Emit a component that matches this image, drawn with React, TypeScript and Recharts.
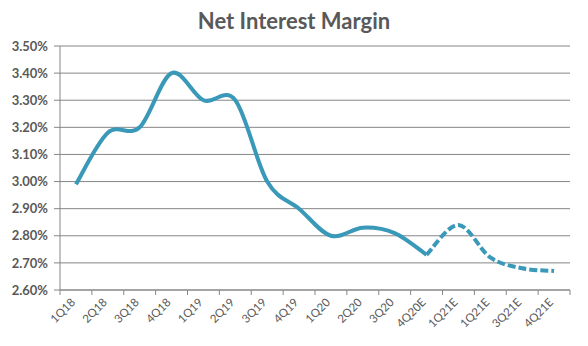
import { CartesianGrid, Line, LineChart, XAxis, YAxis } from "recharts";

const quarters = [
  "1Q18", "2Q18", "3Q18", "4Q18", "1Q19", "2Q19", "3Q19", "4Q19",
  "1Q20", "2Q20", "3Q20", "4Q20E", "1Q21E", "1Q21E", "3Q21E", "4Q21E",
];

// reported margin, %
const actualNim = [
  2.99, 3.18, 3.2, 3.4, 3.3, 3.3, 3.0, 2.9, 2.8, 2.83, 2.81, 2.73,
  null, null, null, null,
];

// estimates, start at 4Q20E so the dashed part joins the solid one
const estimateNim = [
  null, null, null, null, null, null, null, null, null, null, null,
  2.73, 2.84, 2.72, 2.68, 2.67,
];

const yTicks = [2.6, 2.7, 2.8, 2.9, 3.0, 3.1, 3.2, 3.3, 3.4, 3.5];

const data = quarters.map((q, i) => ({
  q,
  actual: actualNim[i],
  estimate: estimateNim[i],
}));

const LINE_COLOR = "#3a98b8";
const AXIS_COLOR = "#868686";
const TEXT_COLOR = "#595959";
const FONT = "Lato, 'Open Sans', sans-serif";

const WIDTH = 588;
const HEIGHT = 346;
const PLOT_LEFT = 60;
const PLOT_RIGHT = 570;
const BAND = (PLOT_RIGHT - PLOT_LEFT) / quarters.length;

// Excel-like smoothed line (Catmull-Rom through the points)
function smoothCurve(context: any) {
  let pts: number[][] = [];
  return {
    areaStart() {},
    areaEnd() {},
    lineStart() {
      pts = [];
    },
    point(x: number, y: number) {
      pts.push([+x, +y]);
    },
    lineEnd() {
      if (!pts.length) return;
      context.moveTo(pts[0][0], pts[0][1]);
      for (let i = 0; i < pts.length - 1; i++) {
        const p0 = pts[i - 1] || pts[i];
        const p1 = pts[i];
        const p2 = pts[i + 1];
        const p3 = pts[i + 2] || pts[i + 1];
        context.bezierCurveTo(
          p1[0] + (p2[0] - p0[0]) / 6,
          p1[1] + (p2[1] - p0[1]) / 6,
          p2[0] - (p3[0] - p1[0]) / 6,
          p2[1] - (p3[1] - p1[1]) / 6,
          p2[0],
          p2[1],
        );
      }
    },
  };
}

function QuarterTick({ x, y, payload, index }: any) {
  const last = index === quarters.length - 1;
  return (
    <g>
      <line x1={x - BAND / 2} x2={x - BAND / 2} y1={y - 8} y2={y - 3} stroke={AXIS_COLOR} />
      {last && (
        <line x1={x + BAND / 2} x2={x + BAND / 2} y1={y - 8} y2={y - 3} stroke={AXIS_COLOR} />
      )}
      <text
        x={x}
        y={y + 5}
        transform={`rotate(-45, ${x}, ${y + 5})`}
        textAnchor="end"
        fontSize={11.5}
        fill={TEXT_COLOR}
        fontFamily={FONT}
      >
        {payload.value}
      </text>
    </g>
  );
}

export default function App() {
  return (
    <div style={{ position: "absolute", left: 0, top: 0, width: WIDTH, height: HEIGHT, background: "#fff" }}>
      <div
        style={{
          position: "absolute",
          top: 7,
          width: WIDTH,
          textAlign: "center",
          fontFamily: FONT,
          fontWeight: 700,
          fontSize: 22,
          color: TEXT_COLOR,
        }}
      >
        Net Interest Margin
      </div>
      <LineChart
        width={WIDTH}
        height={HEIGHT}
        data={data}
        margin={{ top: 46, right: WIDTH - PLOT_RIGHT, bottom: 0, left: 0 }}
      >
        <CartesianGrid vertical={false} stroke={AXIS_COLOR} />
        <XAxis
          dataKey="q"
          interval={0}
          height={56}
          padding={{ left: BAND / 2, right: BAND / 2 }}
          stroke={AXIS_COLOR}
          tickLine={false}
          tick={<QuarterTick />}
        />
        <YAxis
          width={PLOT_LEFT}
          domain={[2.6, 3.5]}
          ticks={yTicks}
          tickSize={6}
          stroke={AXIS_COLOR}
          tickFormatter={(v) => `${Number(v).toFixed(2)}%`}
          tick={{ fill: TEXT_COLOR, fontSize: 13, fontWeight: 700, fontFamily: FONT, dx: -4 }}
        />
        <Line
          dataKey="actual"
          type={smoothCurve as any}
          stroke={LINE_COLOR}
          strokeWidth={4}
          dot={false}
          activeDot={false}
          isAnimationActive={false}
        />
        <Line
          dataKey="estimate"
          type={smoothCurve as any}
          stroke={LINE_COLOR}
          strokeWidth={4}
          strokeDasharray="8 3"
          dot={false}
          activeDot={false}
          isAnimationActive={false}
        />
      </LineChart>
    </div>
  );
}
